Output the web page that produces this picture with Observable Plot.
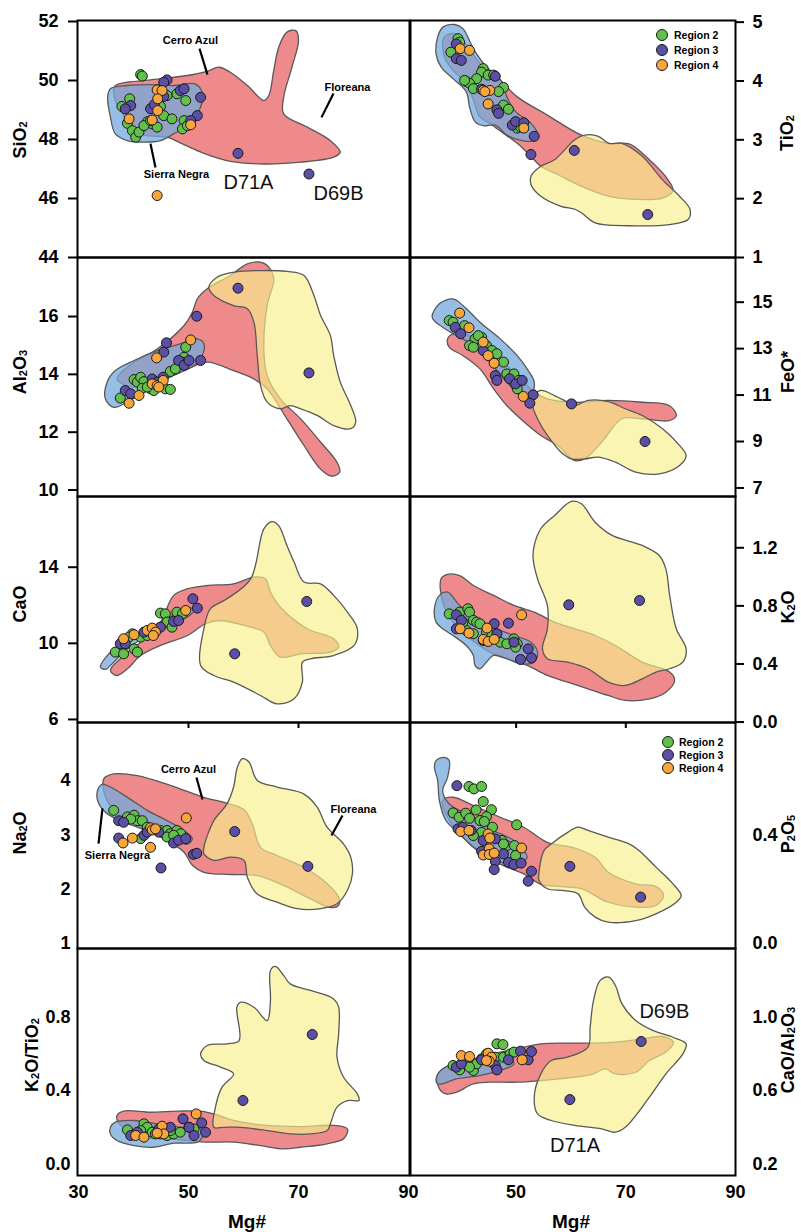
<!DOCTYPE html>
<html>
<head>
<meta charset="utf-8">
<script src="https://cdn.jsdelivr.net/npm/d3@7"></script>
<script src="https://cdn.jsdelivr.net/npm/@observablehq/plot@0.6"></script>
<style>
html,body{margin:0;padding:0;background:#fff;}
#wrap{position:relative;width:801px;height:1232px;overflow:hidden;font-family:"Liberation Sans",Arial,Helvetica,sans-serif;color:#000;}
.pan{position:absolute;}
.yt{position:absolute;font-weight:bold;font-size:18px;white-space:nowrap;line-height:1;transform:translate(-50%,-50%) rotate(-90deg);}
.yt sub{font-size:11px;vertical-align:-1px;line-height:0;}
.xt{position:absolute;font-weight:bold;font-size:19px;transform:translate(-50%,-50%);white-space:nowrap;}
.leg{position:absolute;font-weight:bold;font-size:10.5px;white-space:nowrap;line-height:12px;transform:translateY(-50%);}
.dotl{position:absolute;width:10px;height:10px;border-radius:50%;border:1px solid #1a1a1a;transform:translate(-50%,-50%);}
</style>
</head>
<body>
<div id="wrap"></div>
<script>
// ---------- tick labels / categories ----------
const MG_TICKS = [30, 50, 70, 90];
const MG_TICKS_INNER = [50, 70];
const REGIONS = ["Region 2", "Region 3", "Region 4"];

// ---------- SiO2 ----------
const sio2_cerro = [[36.7,49.83],[43.1,50.02],[49.8,50.17],[53.4,50.31],[55.5,50.45],[57.6,50.28],[60.7,49.83],[63.7,49.32],[64.6,49.49],[65.5,50.34],[66.4,51.13],[67.9,51.64],[69.5,51.69],[70.0,51.35],[68.8,50.45],[67.3,49.43],[67.3,48.87],[71.6,48.42],[75.8,47.96],[77.6,47.57],[76.4,47.40],[70.4,47.23],[63.7,47.17],[57.6,47.26],[52.8,47.53],[48.9,47.85],[46.1,48.08],[41.3,48.19],[37.6,48.98],[36.4,49.55]];
const sio2_sierra = [[35.8,49.72],[38.9,49.83],[43.1,49.86],[47.3,49.83],[51.0,49.89],[52.2,49.72],[52.5,49.32],[51.6,48.87],[49.8,48.47],[47.3,48.19],[44.9,47.96],[41.9,47.91],[38.9,47.96],[36.7,48.19],[35.8,48.76],[35.3,49.43]];
const sio2_r2 = [[41.3,50.2],[41.6,50.15],[39.3,49.38],[37.9,49.12],[38.9,48.55],[39.8,48.3],[40.4,48.08],[41.0,48.25],[42.5,48.6],[43.4,48.53],[44.9,49.12],[45.5,48.81],[46.1,49.49],[47.0,48.7],[47.9,49.55],[49.5,49.32],[49.2,48.64],[48.9,48.36],[49.8,48.47],[44.3,48.42],[41.9,48.47],[43.1,48.64]];
const sio2_r3 = [[46.1,50.02],[45.5,49.94],[48.5,49.66],[49.2,49.72],[52.2,49.43],[51.6,48.81],[50.4,48.64],[39.5,49.15],[38.5,49.04],[43.1,49.04],[43.8,49.18],[45.5,49.46],[59.0,47.53],[71.9,46.83]];
const sio2_r4 = [[44.3,49.68],[45.2,49.66],[44.4,49.38],[44.4,48.98],[43.4,48.66],[39.2,48.7],[50.4,48.5],[44.3,46.1]];
const sio2_labels = [{x:50.36,y:51.36,text:"Cerro Azul"},{x:78.9,y:49.76,text:"Floreana"},{x:47.82,y:46.81,text:"Sierra Negra"}];
const sio2_arrows = [[52.0,51.08,53.45,50.20],[76.36,49.56,74.18,48.75],[43.09,47.86,44.0,47.05]];
const sio2_samples = [{x:60.9,y:46.54,text:"D71A"},{x:77.27,y:46.17,text:"D69B"}];

// ---------- TiO2 ----------
const tio2_sierra = [[35.4,4.46],[35.7,4.75],[36.7,4.92],[38.8,4.96],[40.3,4.89],[42.2,4.55],[44.3,4.27],[47.4,3.99],[48.3,3.73],[49.9,3.48],[52.7,3.28],[54.0,3.08],[53.3,2.99],[50.8,2.99],[48.3,3.08],[46.2,3.25],[44.0,3.24],[42.5,3.31],[41.5,3.56],[40.9,3.82],[38.5,4.04],[36.3,4.24]];
const tio2_cerro = [[36.9,4.75],[39.1,4.80],[41.2,4.58],[43.4,4.30],[47.1,4.01],[50.2,3.73],[55.7,3.42],[61.9,3.08],[66.9,2.94],[70.6,2.93],[74.3,2.66],[77.7,2.32],[78.6,2.13],[76.7,2.01],[71.8,1.99],[66.9,2.04],[61.9,2.21],[57.6,2.41],[54.5,2.55],[52.7,2.72],[50.2,2.94],[47.7,3.11],[45.2,3.28],[43.4,3.39],[42.2,3.68],[40.9,3.96],[38.5,4.18],[36.9,4.41]];
const tio2_floreana = [[52.7,2.38],[54.5,2.55],[57.0,2.66],[60.7,3.00],[62.5,3.08],[65.0,3.06],[66.9,2.94],[69.3,2.94],[73.0,2.72],[76.7,2.32],[79.8,2.04],[81.7,1.82],[81.4,1.65],[78.0,1.56],[70.6,1.54],[64.4,1.59],[61.9,1.76],[60.7,1.82],[58.2,1.87],[54.5,2.04],[52.7,2.24]];
const tio2_r2 = [[39.4,4.72],[39.7,4.66],[38.1,4.49],[44.0,4.21],[43.7,4.15],[42.8,4.04],[40.9,3.99],[41.5,3.96],[42.2,3.87],[44.9,4.10],[45.9,4.10],[47.7,3.89],[46.8,3.82],[47.7,3.59],[48.6,3.52],[50.2,3.20],[50.8,3.22],[40.6,4.01]];
const tio2_r3 = [[39.1,4.63],[39.1,4.38],[40.0,4.35],[46.2,4.08],[43.7,3.86],[46.5,3.51],[46.8,3.45],[49.3,3.25],[49.9,3.31],[51.4,3.29],[53.3,3.06],[52.7,2.75],[60.6,2.82],[74.0,1.73]];
const tio2_r4 = [[39.8,4.55],[41.5,4.52],[44.0,3.84],[45.2,3.84],[44.3,3.82],[44.9,3.61],[51.4,3.20]];

// ---------- Al2O3 ----------
const al_sierra = [[35.2,13.73],[36.7,14.13],[40.1,14.48],[44.3,14.82],[48.6,15.06],[51.6,15.23],[52.8,15.06],[52.5,14.65],[51.0,14.31],[47.3,13.96],[43.1,13.56],[38.9,13.04],[36.4,12.86],[34.9,13.15]];
const al_cerro = [[37.0,13.84],[40.1,14.42],[44.3,14.88],[49.2,15.69],[50.7,16.15],[51.6,16.61],[53.4,16.96],[57.6,17.42],[60.7,17.82],[63.1,17.88],[64.6,17.71],[65.5,17.30],[64.3,16.38],[63.7,14.88],[64.3,13.96],[66.7,13.15],[70.4,12.46],[74.0,11.66],[77.0,10.96],[77.5,10.62],[76.1,10.48],[74.0,10.73],[71.0,11.54],[67.9,12.46],[64.3,13.50],[61.9,13.84],[58.2,14.13],[53.4,14.42],[49.8,14.19],[44.9,13.84],[40.1,13.56]];
const al_floreana = [[53.7,17.01],[55.2,17.36],[58.2,17.53],[63.1,17.59],[67.9,17.56],[71.0,17.42],[72.8,16.73],[74.0,16.04],[75.8,15.34],[76.4,14.65],[77.6,13.73],[79.5,12.92],[80.4,12.35],[79.5,12.12],[76.4,12.23],[73.4,12.58],[70.4,12.81],[68.5,12.92],[66.7,12.81],[64.3,13.04],[63.1,13.61],[62.5,14.65],[61.9,15.80],[60.7,16.27],[58.2,16.38],[54.6,16.73]];
const al_r2 = [[37.6,13.18],[40.1,13.82],[40.7,13.73],[41.3,13.90],[41.9,13.75],[41.6,13.52],[43.1,13.50],[43.7,13.44],[45.8,13.50],[46.7,13.48],[46.7,14.10],[47.6,14.19],[49.2,14.59],[49.5,14.94],[48.9,14.42],[42.5,13.56]];
const al_r3 = [[38.5,13.44],[39.5,13.33],[43.4,13.84],[45.4,13.90],[45.5,14.77],[46.0,15.09],[48.2,14.48],[49.2,14.31],[50.1,14.48],[52.2,14.48],[51.5,16.01],[59.0,16.98],[71.9,14.05],[44.3,13.73]];
const al_r4 = [[39.2,13.00],[41.0,13.27],[44.2,14.57],[43.4,13.67],[44.3,13.61],[45.4,13.79],[50.4,15.19],[44.6,13.56]];

// ---------- FeO* ----------
const fe_sierra = [[34.7,14.35],[36.0,14.93],[38.5,15.14],[40.3,14.86],[43.4,14.14],[47.1,13.42],[50.2,12.70],[52.0,12.13],[53.3,11.56],[52.7,10.98],[50.8,10.98],[48.3,11.56],[45.2,12.42],[42.2,13.13],[39.1,13.57],[36.6,13.92]];
const fe_cerro = [[37.5,13.42],[38.5,13.64],[41.5,13.57],[44.6,13.13],[47.7,12.42],[50.8,11.70],[53.3,11.13],[55.7,10.84],[60.7,10.69],[66.8,10.77],[73.0,10.69],[77.9,10.55],[79.2,10.12],[77.9,9.90],[73.0,9.98],[69.3,9.98],[65.6,8.97],[62.5,8.25],[60.7,8.18],[57.6,8.83],[54.5,9.26],[50.8,9.98],[48.3,10.55],[45.9,11.27],[43.4,12.13],[40.3,12.70],[37.8,13.06]];
const fe_floreana = [[53.3,10.98],[54.5,11.20],[57.0,10.98],[59.4,10.69],[60.7,10.55],[63.1,10.77],[66.8,10.72],[69.9,10.41],[73.0,10.12],[76.7,9.55],[79.8,8.83],[81.0,8.40],[79.8,7.97],[76.1,7.61],[71.8,7.68],[68.1,8.11],[65.0,8.33],[62.5,8.25],[60.1,8.25],[58.2,8.54],[55.7,9.26],[53.9,9.98],[53.0,10.55]];
const fe_r2 = [[37.8,14.21],[38.5,14.14],[40.6,13.99],[42.5,13.42],[43.7,13.49],[41.5,13.13],[42.2,13.06],[44.6,13.13],[45.6,12.92],[46.5,12.78],[47.7,12.42],[48.3,11.91],[49.6,11.91],[50.2,11.27],[50.5,11.63],[43.1,13.56]];
const fe_r3 = [[38.9,13.92],[39.9,13.64],[44.0,12.92],[46.2,11.84],[46.5,11.63],[48.8,11.70],[49.9,11.48],[51.1,11.63],[53.1,11.01],[52.5,10.65],[60.1,10.62],[73.5,9.00]];
const fe_r4 = [[39.7,14.53],[41.4,13.90],[44.0,13.28],[44.9,12.70],[46.0,12.37],[51.3,10.94]];

// ---------- CaO ----------
const ca_sierra = [[34.0,8.75],[35.8,9.54],[38.9,10.24],[42.5,10.77],[46.1,11.29],[49.8,11.90],[51.0,11.73],[49.8,11.38],[46.1,10.94],[42.5,10.41],[38.9,9.71],[36.4,9.01],[34.9,8.63]];
const ca_cerro = [[35.8,8.58],[37.6,9.19],[41.3,10.06],[44.9,11.12],[47.3,12.52],[49.8,12.87],[53.4,13.04],[58.2,13.13],[61.9,13.48],[64.0,13.39],[64.9,12.69],[66.7,11.90],[71.6,10.77],[76.4,10.24],[77.3,9.80],[75.8,9.54],[70.4,9.45],[66.7,9.28],[64.9,9.89],[63.7,10.59],[60.1,10.94],[55.8,11.20],[53.1,11.03],[49.8,10.41],[44.9,9.89],[41.3,9.36],[38.9,8.66],[37.0,8.31]];
const ca_floreana = [[52.2,8.84],[52.8,10.77],[54.0,11.82],[57.0,12.34],[61.3,13.39],[63.7,16.02],[65.2,16.40],[66.4,16.19],[67.9,15.14],[69.2,14.27],[71.0,13.22],[74.0,13.13],[76.4,12.52],[78.9,11.64],[80.7,10.77],[80.1,9.89],[76.4,9.36],[72.2,9.19],[70.7,9.01],[70.7,7.96],[69.2,7.09],[66.1,6.82],[63.1,7.26],[58.2,7.96],[54.6,8.31]];
const ca_r2 = [[36.7,9.54],[38.2,9.45],[40.1,9.71],[40.7,9.54],[39.8,10.50],[41.3,10.33],[44.9,11.59],[45.8,11.55],[46.1,11.12],[47.0,10.85],[47.9,11.64],[48.9,11.55],[39.2,10.33],[42.5,10.41]];
const ca_r3 = [[37.6,9.98],[38.5,9.98],[41.9,10.59],[44.9,10.85],[47.3,11.15],[48.2,11.20],[50.8,12.34],[51.6,11.85],[58.4,9.45],[71.5,12.20],[43.6,10.50]];
const ca_r4 = [[38.2,10.24],[40.1,10.45],[42.5,10.68],[43.4,10.80],[44.0,10.59],[43.6,10.41],[49.5,11.73]];

// ---------- K2O ----------
const k_sierra = [[35.1,0.780],[36.0,0.872],[37.5,0.895],[39.7,0.803],[42.8,0.711],[46.5,0.642],[49.6,0.596],[52.7,0.550],[53.9,0.482],[53.3,0.413],[50.8,0.401],[48.3,0.436],[45.9,0.459],[44.6,0.413],[43.4,0.367],[42.5,0.390],[42.2,0.459],[40.9,0.527],[38.5,0.596],[36.6,0.642],[35.4,0.688]];
const k_cerro = [[36.3,0.986],[37.2,1.014],[39.7,1.009],[42.2,0.940],[45.9,0.872],[49.6,0.803],[53.3,0.757],[57.0,0.688],[60.7,0.642],[64.4,0.596],[68.1,0.527],[73.0,0.413],[78.0,0.344],[78.9,0.286],[77.3,0.206],[74.3,0.160],[69.9,0.149],[66.8,0.183],[63.1,0.229],[59.4,0.275],[55.7,0.321],[52.0,0.390],[48.3,0.436],[45.2,0.482],[40.9,0.596],[38.5,0.688],[36.6,0.826]];
const k_floreana = [[53.3,1.216],[54.5,1.331],[57.0,1.422],[60.1,1.519],[61.9,1.503],[64.4,1.376],[67.5,1.285],[73.0,1.216],[76.1,1.147],[77.3,1.055],[78.0,0.872],[79.2,0.642],[81.0,0.504],[80.4,0.413],[78.0,0.367],[75.5,0.344],[73.0,0.298],[69.9,0.252],[66.8,0.275],[63.1,0.367],[59.4,0.413],[55.7,0.436],[54.8,0.504],[55.7,0.642],[55.7,0.803],[53.9,0.986],[53.1,1.124]];
const k_r2 = [[37.8,0.745],[39.7,0.757],[41.2,0.780],[41.5,0.757],[42.2,0.700],[42.8,0.688],[43.4,0.677],[40.9,0.631],[42.2,0.608],[44.6,0.619],[45.6,0.596],[47.1,0.550],[48.3,0.539],[49.6,0.573],[50.2,0.539],[49.9,0.516],[40.3,0.688]];
const k_r3 = [[39.1,0.738],[40.0,0.700],[39.1,0.642],[46.0,0.677],[46.5,0.608],[48.6,0.681],[49.6,0.550],[50.8,0.431],[52.2,0.504],[52.8,0.442],[59.6,0.807],[72.5,0.837],[44.0,0.562]];
const k_r4 = [[39.8,0.642],[41.4,0.612],[44.7,0.647],[44.0,0.569],[44.9,0.555],[46.0,0.569],[51.0,0.738]];

// ---------- Na2O ----------
const na_sierra = [[33.4,3.79],[34.3,3.93],[35.8,3.88],[38.9,3.69],[42.5,3.45],[46.1,3.26],[49.2,3.08],[50.7,2.93],[49.8,2.83],[46.7,2.90],[43.7,3.02],[40.7,3.14],[37.6,3.26],[35.2,3.39],[33.7,3.57]];
const na_cerro = [[34.6,4.03],[36.4,4.12],[40.7,4.09],[46.7,3.91],[52.8,3.69],[57.0,3.58],[60.1,3.46],[61.6,3.20],[63.1,2.77],[66.1,2.62],[71.0,2.40],[75.2,2.10],[77.3,1.85],[77.3,1.70],[75.8,1.66],[72.2,1.82],[67.3,2.07],[62.5,2.25],[57.6,2.27],[52.8,2.31],[50.7,2.44],[49.2,2.68],[46.7,2.86],[42.5,3.08],[38.2,3.32],[35.2,3.63]];
const na_floreana = [[52.8,2.77],[54.6,3.26],[57.0,3.57],[58.2,3.88],[58.9,4.25],[59.8,4.40],[61.0,4.34],[62.5,4.00],[66.1,3.88],[71.0,3.75],[73.4,3.51],[75.2,3.14],[78.2,2.83],[79.5,2.59],[79.8,2.28],[78.9,1.98],[77.0,1.73],[74.0,1.64],[69.8,1.64],[66.1,1.76],[62.5,1.91],[60.7,2.22],[60.1,2.53],[57.6,2.59],[54.6,2.53],[52.8,2.65]];
const na_r2 = [[36.4,3.45],[38.9,3.33],[40.1,3.36],[40.7,3.26],[41.6,3.26],[42.5,3.14],[41.3,2.93],[44.9,3.08],[46.1,3.08],[46.7,3.02],[47.9,3.08],[48.6,3.02],[46.1,2.96],[47.3,2.99],[39.5,3.29]];
const na_r3 = [[37.3,3.26],[38.2,3.23],[37.3,2.94],[41.9,2.99],[42.5,3.05],[44.6,3.05],[47.3,2.85],[48.2,2.90],[49.5,2.93],[50.9,2.64],[51.5,2.66],[45.0,2.39],[58.4,3.06],[71.7,2.42]];
const na_r4 = [[39.8,2.94],[38.1,2.85],[43.1,2.77],[43.1,3.13],[43.4,3.09],[44.0,3.11],[49.6,3.31]];
const na_labels = [{x:50.0,y:4.20,text:"Cerro Azul"},{x:80.0,y:3.466,text:"Floreana"},{x:37.09,y:2.62,text:"Sierra Negra"}];
const na_arrows = [[51.45,4.055,52.55,3.65],[78.0,3.356,76.0,2.988],[34.36,3.485,33.64,2.84]];

// ---------- P2O5 ----------
const p_sierra = [[35.1,0.653],[35.4,0.678],[36.9,0.690],[37.8,0.678],[37.5,0.616],[36.6,0.567],[37.8,0.517],[42.2,0.468],[45.9,0.419],[49.6,0.382],[51.4,0.345],[52.0,0.320],[50.8,0.295],[48.3,0.295],[45.2,0.320],[42.2,0.357],[39.7,0.406],[37.2,0.456],[36.0,0.530],[35.7,0.604]];
const p_cerro = [[36.6,0.530],[38.5,0.542],[42.2,0.511],[47.1,0.468],[51.4,0.431],[55.7,0.375],[60.7,0.354],[64.4,0.320],[66.8,0.264],[71.8,0.221],[75.5,0.211],[76.9,0.178],[75.5,0.141],[71.8,0.135],[66.8,0.153],[61.9,0.203],[58.2,0.211],[54.5,0.219],[51.4,0.258],[48.3,0.283],[44.6,0.320],[40.9,0.382],[37.8,0.456]];
const p_floreana = [[54.2,0.270],[55.1,0.345],[56.4,0.369],[59.4,0.412],[61.3,0.431],[63.1,0.419],[66.8,0.394],[70.6,0.369],[72.4,0.345],[75.5,0.283],[78.6,0.221],[80.1,0.178],[79.2,0.153],[75.5,0.110],[71.8,0.085],[66.8,0.079],[64.4,0.098],[62.5,0.135],[61.3,0.184],[58.8,0.196],[55.7,0.203],[54.2,0.233]];
const p_r2 = [[41.4,0.582],[42.3,0.573],[43.7,0.582],[44.0,0.526],[42.7,0.495],[45.5,0.496],[38.5,0.484],[39.6,0.468],[40.8,0.483],[41.5,0.464],[43.4,0.456],[44.6,0.470],[44.2,0.452],[45.7,0.431],[50.1,0.440],[43.7,0.412],[42.2,0.400],[47.4,0.382],[48.3,0.363],[49.7,0.363],[49.9,0.326],[47.7,0.369]];
const p_r3 = [[39.2,0.585],[39.4,0.425],[40.3,0.431],[41.8,0.419],[44.0,0.382],[46.2,0.388],[43.7,0.342],[46.2,0.305],[46.0,0.274],[48.6,0.301],[49.6,0.293],[50.9,0.298],[52.8,0.268],[52.2,0.231],[59.8,0.286],[72.7,0.172],[47.7,0.332]];
const p_r4 = [[39.9,0.415],[41.4,0.419],[44.9,0.406],[45.2,0.391],[45.1,0.351],[44.0,0.328],[45.1,0.330],[46.0,0.335],[51.0,0.354]];

// ---------- K2O/TiO2 ----------
const kt_sierra = [[35.8,0.200],[36.7,0.228],[40.1,0.237],[44.3,0.219],[48.5,0.200],[52.2,0.191],[52.5,0.146],[51.6,0.119],[47.3,0.113],[43.7,0.091],[40.1,0.100],[37.0,0.128],[35.8,0.164]];
const kt_cerro = [[37.0,0.264],[38.2,0.288],[43.1,0.282],[48.0,0.288],[52.2,0.288],[54.6,0.273],[58.2,0.237],[64.3,0.210],[70.4,0.204],[76.4,0.210],[78.9,0.191],[78.2,0.137],[75.2,0.110],[70.4,0.091],[67.3,0.082],[63.1,0.100],[58.2,0.119],[53.4,0.119],[49.8,0.128],[46.1,0.137],[41.3,0.146],[38.2,0.200],[37.2,0.228]];
const kt_floreana = [[54.6,0.200],[54.9,0.310],[56.1,0.419],[58.2,0.491],[55.8,0.528],[52.8,0.564],[52.2,0.600],[53.4,0.646],[57.0,0.655],[59.2,0.673],[58.8,0.855],[59.5,0.882],[61.9,0.855],[64.3,0.782],[64.9,0.891],[64.9,1.055],[65.8,1.077],[67.3,1.028],[68.5,0.982],[72.2,0.946],[76.4,0.900],[77.3,0.855],[77.3,0.710],[77.0,0.582],[78.2,0.473],[80.7,0.382],[81.0,0.346],[78.9,0.346],[77.0,0.310],[75.8,0.219],[75.2,0.182],[72.2,0.164],[68.5,0.164],[64.3,0.182],[59.5,0.200],[56.4,0.200]];
const kt_r2 = [[38.9,0.186],[41.9,0.219],[42.5,0.200],[43.4,0.173],[44.0,0.164],[46.1,0.155],[47.3,0.164],[48.5,0.173],[50.1,0.200],[51.0,0.191],[41.3,0.182],[46.7,0.182]];
const kt_r3 = [[39.5,0.155],[40.7,0.173],[44.6,0.191],[46.7,0.200],[49.0,0.246],[50.1,0.200],[51.0,0.155],[52.4,0.224],[53.1,0.173],[59.9,0.346],[72.5,0.706]];
const kt_r4 = [[40.4,0.155],[41.9,0.146],[44.9,0.164],[45.2,0.206],[45.5,0.164],[51.4,0.273],[44.3,0.168]];

// ---------- CaO/Al2O3 ----------
const caal_sierra = [[35.4,0.664],[36.6,0.719],[39.1,0.746],[42.2,0.764],[45.9,0.782],[48.3,0.782],[49.6,0.746],[47.1,0.710],[43.4,0.682],[39.1,0.664],[36.6,0.637],[35.7,0.637]];
const caal_cerro = [[35.7,0.691],[37.8,0.737],[42.2,0.773],[47.1,0.810],[50.2,0.828],[54.5,0.855],[59.4,0.859],[64.4,0.859],[68.1,0.864],[73.0,0.882],[76.7,0.895],[78.7,0.864],[77.3,0.810],[74.3,0.764],[71.8,0.700],[68.1,0.691],[66.2,0.719],[64.1,0.691],[60.7,0.673],[54.5,0.655],[50.2,0.646],[45.2,0.646],[42.2,0.637],[39.1,0.591],[37.2,0.582],[36.0,0.610]];
const caal_floreana = [[53.3,0.564],[54.5,0.691],[56.4,0.764],[59.4,0.782],[63.1,0.837],[63.5,0.946],[64.1,1.091],[65.3,1.200],[66.9,1.219],[68.1,1.173],[69.3,1.073],[71.8,0.982],[74.9,0.928],[78.6,0.891],[81.0,0.855],[80.4,0.800],[77.3,0.691],[74.3,0.564],[69.9,0.400],[68.1,0.373],[65.6,0.391],[60.7,0.410],[56.4,0.437],[53.9,0.473]];
const caal_r2 = [[46.5,0.855],[47.6,0.851],[38.5,0.737],[39.7,0.713],[42.2,0.710],[42.8,0.746],[43.7,0.773],[44.6,0.800],[46.2,0.782],[47.7,0.782],[48.9,0.800],[49.6,0.810],[41.5,0.728]];
const caal_r3 = [[39.1,0.728],[40.0,0.746],[43.7,0.768],[46.2,0.737],[46.5,0.713],[48.6,0.768],[50.8,0.815],[52.2,0.768],[52.8,0.813],[59.8,0.551],[72.8,0.868]];
const caal_r4 = [[40.0,0.791],[41.5,0.786],[44.9,0.804],[45.5,0.782],[45.1,0.760],[51.1,0.768],[44.6,0.764]];
const caal_samples = [{x:77.04,y:1.031,text:"D69B"},{x:60.74,y:0.300,text:"D71A"}];

// ---------- layout ----------
const COL = {cerro:"#ee8a8c", sierra:"#74a9de", floreana:"#f9f08a", r2:"#62c04d", r3:"#5a4ea5", r4:"#f7a53d"};
const ROWS = [[20,257],[257,496],[496,722],[722,948],[948,1175]];

const panels = [
 {col:0,row:0,ydom:[44,52.034],yticks:[44,46,48,50,52],fmt:"d",cerro:sio2_cerro,sierra:sio2_sierra,floreana:null,r2:sio2_r2,r3:sio2_r3,r4:sio2_r4,labels:sio2_labels,arrows:sio2_arrows,samples:sio2_samples},
 {col:1,row:0,ydom:[1,5.028],yticks:[1,2,3,4,5],fmt:"d",cerro:tio2_cerro,sierra:tio2_sierra,floreana:tio2_floreana,r2:tio2_r2,r3:tio2_r3,r4:tio2_r4},
 {col:0,row:1,ydom:[9.776,18.041],yticks:[10,12,14,16],fmt:"d",cerro:al_cerro,sierra:al_sierra,floreana:al_floreana,r2:al_r2,r3:al_r3,r4:al_r4},
 {col:1,row:1,ydom:[6.632,16.924],yticks:[7,9,11,13,15],fmt:"d",cerro:fe_cerro,sierra:fe_sierra,floreana:fe_floreana,r2:fe_r2,r3:fe_r3,r4:fe_r4},
 {col:0,row:2,ydom:[5.84,17.717],yticks:[6,10,14],fmt:"d",cerro:ca_cerro,sierra:ca_sierra,floreana:ca_floreana,r2:ca_r2,r3:ca_r3,r4:ca_r4},
 {col:1,row:2,ydom:[-0.003,1.553],yticks:[0,0.4,0.8,1.2],fmt:".1f",cerro:k_cerro,sierra:k_sierra,floreana:k_floreana,r2:k_r2,r3:k_r3,r4:k_r4},
 {col:0,row:3,ydom:[0.908,5.067],yticks:[1,2,3,4],fmt:"d",cerro:na_cerro,sierra:na_sierra,floreana:na_floreana,r2:na_r2,r3:na_r3,r4:na_r4,labels:na_labels,arrows:na_arrows},
 {col:1,row:3,ydom:[-0.0184,0.819],yticks:[0,0.4],fmt:".1f",cerro:p_cerro,sierra:p_sierra,floreana:p_floreana,r2:p_r2,r3:p_r3,r4:p_r4},
 {col:0,row:4,ydom:[-0.063,1.175],yticks:[0,0.4,0.8],fmt:".1f",cerro:kt_cerro,sierra:kt_sierra,floreana:kt_floreana,r2:kt_r2,r3:kt_r3,r4:kt_r4},
 {col:1,row:4,ydom:[0.137,1.375],yticks:[0.2,0.6,1.0],fmt:".1f",cerro:caal_cerro,sierra:caal_sierra,floreana:caal_floreana,r2:caal_r2,r3:caal_r3,r4:caal_r4,samples:caal_samples}
];

const wrap = document.getElementById("wrap");

function build(p){
  const [ft, fb] = ROWS[p.row];
  const left = p.col === 0;
  const mt = 14, mb = p.row === 4 ? 40 : 14;
  const ml = left ? 77 : 5, mr = left ? 1 : 66;
  const width = left ? 410 : 396;
  const xdom = left ? [29.82, 90.18] : [30.74, 90];
  const marks = [];
  const poly = (data, fill, op) => { if (data) marks.push(Plot.line(data, {x: d => d[0], y: d => d[1], curve: "catmull-rom-closed", fill, fillOpacity: op, stroke: "#585858", strokeWidth: 1.3})); };
  poly(p.cerro, COL.cerro, 1);
  poly(p.sierra, COL.sierra, 0.75);
  poly(p.floreana, COL.floreana, 0.65);
  if (p.arrows) marks.push(Plot.link(p.arrows, {x1: d => d[0], y1: d => d[1], x2: d => d[2], y2: d => d[3], stroke: "#000", strokeWidth: 2.2}));
  for (const k of ["r2","r3","r4"]) marks.push(Plot.dot(p[k], {x: d => d[0], y: d => d[1], r: 5, fill: COL[k], stroke: "#1a1a1a", strokeWidth: 1}));
  if (p.labels) marks.push(Plot.text(p.labels, {x: "x", y: "y", text: "text", fontSize: 11, fontWeight: "bold", fill: "#000"}));
  if (p.samples) marks.push(Plot.text(p.samples, {x: "x", y: "y", text: "text", fontSize: 20, fontWeight: "normal", fill: "#111"}));
  marks.push(Plot.frame({stroke: "#000", strokeWidth: 2}));
  const marked = p.row < 3;
  marks.push(Plot.axisY(p.yticks, {anchor: left ? "left" : "right", tickSize: marked ? (left ? 9 : 8) : 0, tickPadding: marked ? (left ? 10 : 9) : (left ? 7 : 17), tickFormat: p.fmt, label: null, strokeWidth: 2}));
  if (p.row === 2) marks.push(Plot.axisX(MG_TICKS_INNER, {anchor: "bottom", tickSize: 6, tickFormat: () => "", label: null, strokeWidth: 2}));
  if (p.row === 4) marks.push(Plot.axisX(left ? MG_TICKS : MG_TICKS.slice(1), {anchor: "bottom", tickSize: 0, tickPadding: 10, tickFormat: "d", label: null}));
  const chart = Plot.plot({
    width, height: (fb - ft) + mt + mb,
    marginTop: mt, marginBottom: mb, marginLeft: ml, marginRight: mr,
    x: {domain: xdom, axis: null},
    y: {domain: p.ydom, axis: null},
    style: {fontFamily: "'Liberation Sans', Arial, Helvetica, sans-serif", fontSize: "18px", fontWeight: "bold", background: "transparent", overflow: "visible", color: "#000"},
    marks
  });
  chart.classList.add("pan");
  chart.style.left = (left ? 0 : 405) + "px";
  chart.style.top = (ft - mt) + "px";
  wrap.appendChild(chart);
}
panels.forEach(build);

// axis titles
const yTitles = [
  ["SiO<sub>2</sub>", 20, 140], ["Al<sub>2</sub>O<sub>3</sub>", 20, 372], ["CaO", 20, 604], ["Na<sub>2</sub>O", 20, 833], ["K<sub>2</sub>O/TiO<sub>2</sub>", 32, 1055],
  ["TiO<sub>2</sub>", 787, 133], ["FeO*", 788, 372], ["K<sub>2</sub>O", 788, 607], ["P<sub>2</sub>O<sub>5</sub>", 788, 834], ["CaO/Al<sub>2</sub>O<sub>3</sub>", 788, 1050]
];
for (const [html, cx, cy] of yTitles) {
  const d = document.createElement("div");
  d.className = "yt"; d.innerHTML = html;
  d.style.left = cx + "px"; d.style.top = cy + "px";
  wrap.appendChild(d);
}
for (const cx of [247, 571]) {
  const d = document.createElement("div");
  d.className = "xt"; d.textContent = "Mg#";
  d.style.left = cx + "px"; d.style.top = "1222px";
  wrap.appendChild(d);
}
// legends
const legendSpots = [[662, 35, 15, 674], [668, 742, 13, 679]];
for (const [cx, cy, step, tx] of legendSpots) {
  REGIONS.forEach((name, i) => {
    const c = document.createElement("div");
    c.className = "dotl";
    c.style.background = COL["r" + (i + 2)];
    c.style.left = cx + "px"; c.style.top = (cy + i * step) + "px";
    wrap.appendChild(c);
    const t = document.createElement("div");
    t.className = "leg"; t.textContent = name;
    t.style.left = tx + "px"; t.style.top = (cy + i * step) + "px";
    wrap.appendChild(t);
  });
}
</script>
</body>
</html>
